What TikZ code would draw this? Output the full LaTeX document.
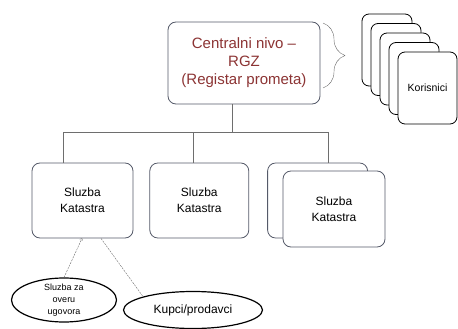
\documentclass[tikz,border=0pt]{standalone}
\usepackage{fontspec}
\setmainfont{Liberation Sans}
\usetikzlibrary{positioning, calc, shapes.geometric, decorations.pathreplacing}
\definecolor{rgzred}{RGB}{140,52,52}
\definecolor{boxgray}{RGB}{85,90,105}
\definecolor{linegray}{RGB}{110,110,110}

\begin{document}
\begin{tikzpicture}[x=1pt, y=-1pt,
level/.style={rectangle, rounded corners=8pt, draw=boxgray, thick, fill=white, align=center, inner sep=0pt},
user/.style={rectangle, rounded corners=7pt, draw=black, thick, fill=white, minimum width=50pt, minimum height=72pt, inner sep=0pt},
party/.style={ellipse, draw=black, very thick, fill=white, align=center, inner sep=0pt},
tree/.style={draw=linegray, semithick},
link/.style={draw=linegray, thin, dash pattern=on 2pt off 1pt}]
\useasboundingbox (0,0) rectangle (458,329);
% central level
\node (rgz) [level, minimum width=152pt, minimum height=82pt, text=rgzred, font=\fontsize{15}{18}\selectfont] at (244,63) {Centralni nivo --\\RGZ\\(Registar prometa)};
\draw[linegray, decorate, decoration={brace, amplitude=22pt}] (323,23) -- (323,88);
% users
\foreach \i in {0,...,3}
  \node (kor\i) [user] at (387+9*\i, 50+9.5*\i) {};
\node (kor) [user, minimum width=59pt, font=\fontsize{10.5}{12}\selectfont] at (427.5,88) {Korisnici};
% local offices
\node (kat1) [level, minimum width=101pt, minimum height=75pt, font=\fontsize{12}{16}\selectfont] at (82.5,200.5) {Sluzba\\Katastra};
\node (kat2) [level, minimum width=99pt, minimum height=75pt, font=\fontsize{12}{16}\selectfont, right=16pt of kat1] {Sluzba\\Katastra};
\node (kat3b) [level, minimum width=100pt, minimum height=75pt, right=18pt of kat2] {};
\node (kat3) [level, minimum width=102pt, minimum height=76pt, font=\fontsize{12}{16}\selectfont] at (334,209) {Sluzba\\Katastra};
\coordinate (split) at (232,132);
\draw[tree] ([xshift=-12pt]rgz.south) -- (split);
\draw[tree] (split) -| ([xshift=-19.5pt]kat1.north);
\draw[tree] (split) -| ([xshift=-6.5pt]kat2.north);
\draw[tree] (split) -| ([xshift=11pt]kat3b.north);
% parties
\node (overa) [party, minimum width=105pt, minimum height=44pt, inner sep=-4pt, font=\fontsize{9}{12}\selectfont] at (64,300) {Sluzba za\\overu\\ugovora};
\node (kupci) [party, minimum width=139pt, minimum height=37pt, font=\fontsize{12}{14}\selectfont] at (193,310) {Kupci/prodavci};
\draw[link, ->] (overa.north) -- ([xshift=-0.5pt]kat1.south);
\draw[link] ([xshift=18.5pt]kat1.south) -- (kupci.165);
\end{tikzpicture}
\end{document}
